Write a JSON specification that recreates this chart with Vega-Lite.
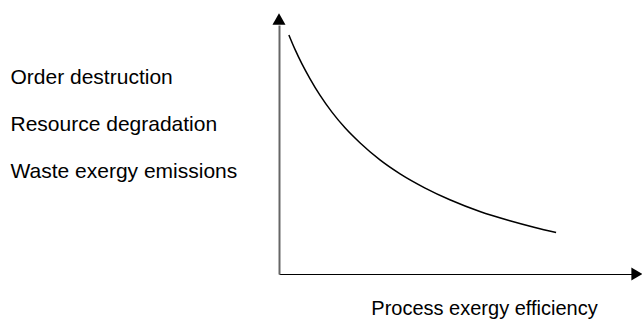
{
  "$schema": "https://vega.github.io/schema/vega-lite/v6.json",
  "width": 353,
  "height": 249,
  "autosize": "none",
  "padding": {"left": 279, "top": 25, "right": 10, "bottom": 50},
  "background": "white",
  "config": {"view": {"stroke": null}, "font": "Liberation Sans"},
  "layer": [
    {
      "data": {"values": [
        {"efficiency": 2.8, "loss": 96.0},
        {"efficiency": 4.5, "loss": 90.3},
        {"efficiency": 6.5, "loss": 84.4},
        {"efficiency": 8.8, "loss": 78.4},
        {"efficiency": 11.6, "loss": 71.8},
        {"efficiency": 15.0, "loss": 65.0},
        {"efficiency": 18.7, "loss": 58.7},
        {"efficiency": 23.0, "loss": 52.6},
        {"efficiency": 28.6, "loss": 45.8},
        {"efficiency": 34.3, "loss": 40.2},
        {"efficiency": 41.4, "loss": 34.5},
        {"efficiency": 48.4, "loss": 29.8},
        {"efficiency": 56.9, "loss": 25.1},
        {"efficiency": 65.4, "loss": 21.4},
        {"efficiency": 72.5, "loss": 18.7},
        {"efficiency": 78.5, "loss": 16.7}
      ]},
      "mark": {"type": "line", "color": "black", "strokeWidth": 1.5, "interpolate": "monotone", "clip": false},
      "encoding": {
        "x": {
          "field": "efficiency", "type": "quantitative",
          "scale": {"domain": [0, 100], "nice": false, "zero": false},
          "axis": {
            "title": "Process exergy efficiency",
            "domainColor": "black", "domainWidth": 1,
            "ticks": false, "labels": false, "grid": false,
            "titleFontSize": 20, "titleFontWeight": "normal", "titleColor": "black",
            "titleFont": "Liberation Sans",
            "titleX": 205, "titleY": 40, "titleAlign": "center", "titleBaseline": "alphabetic"
          }
        },
        "y": {
          "field": "loss", "type": "quantitative",
          "scale": {"domain": [0, 100], "nice": false, "zero": false},
          "axis": {
            "title": ["Order destruction", "Resource degradation", "Waste exergy emissions"],
            "domainColor": "#666666", "domainWidth": 2,
            "ticks": false, "labels": false, "grid": false,
            "titleAngle": 0, "titleAlign": "left", "titleBaseline": "top",
            "titleX": -269, "titleY": 41.5, "titleLineHeight": 47,
            "titleFontSize": 21, "titleFontWeight": "normal", "titleColor": "black",
            "titleFont": "Liberation Sans"
          }
        }
      }
    },
    {
      "data": {"values": [{"efficiency": 100, "loss": 0}]},
      "mark": {"type": "point", "shape": "triangle-right", "filled": true, "color": "black", "opacity": 1, "size": 170, "xOffset": 5, "clip": false},
      "encoding": {
        "x": {"field": "efficiency", "type": "quantitative"},
        "y": {"field": "loss", "type": "quantitative"}
      }
    },
    {
      "data": {"values": [{"efficiency": 0, "loss": 100}]},
      "mark": {"type": "point", "shape": "triangle-up", "filled": true, "color": "black", "opacity": 1, "size": 170, "yOffset": -6, "clip": false},
      "encoding": {
        "x": {"field": "efficiency", "type": "quantitative"},
        "y": {"field": "loss", "type": "quantitative"}
      }
    }
  ]
}
